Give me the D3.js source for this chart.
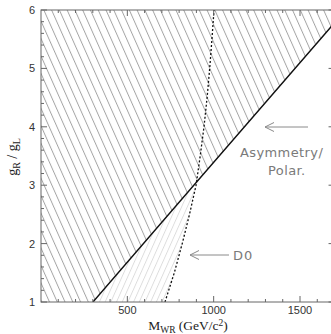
<!DOCTYPE html>
<html><head><meta charset="utf-8">
<script src="https://cdn.jsdelivr.net/npm/d3@7"></script>
<style>html,body{margin:0;padding:0;background:#fff;}svg{display:block;}</style>
</head><body>
<svg id="c" width="331" height="334"></svg>
<script>
// ---- data ----
const xMajorTicks = [500, 1000, 1500];
const yMajorTicks = [1, 2, 3, 4, 5, 6];
// Asymmetry / Polarization limit (solid line): [M_WR, gR/gL]
const asymLine = [[301, 1], [900, 3.05], [1700, 5.78]];
// D0 limit (dashed line)
const d0Line = [[718, 1], [772, 1.5], [818, 2], [860, 2.5], [898, 3], [922, 3.5], [944, 4], [962, 4.5], [977, 5], [990, 5.5], [1002, 6]];
const xDomain = [0, 1700];
const yDomain = [1, 6];

// ---- layout ----
const svg = d3.select("#c");
const L = 41, T = 10, B = 302;
const x = d3.scaleLinear().domain(xDomain).range([L, L + 259 * 1700 / 1500]);
const y = d3.scaleLinear().domain(yDomain).range([B, T]);
const R = x(xDomain[1]);

const defs = svg.append("defs");
defs.append("clipPath").attr("id", "plot").append("rect")
  .attr("x", L).attr("y", T).attr("width", R - L).attr("height", B - T);

const pd = defs.append("pattern").attr("id", "hDark").attr("patternUnits", "userSpaceOnUse")
  .attr("width", 7.1).attr("height", 10).attr("patternTransform", "rotate(-24)");
pd.append("line").attr("x1", 0.5).attr("x2", 0.5).attr("y1", 0).attr("y2", 10)
  .attr("stroke", "#939393").attr("stroke-width", 0.85);
const pl = defs.append("pattern").attr("id", "hLight").attr("patternUnits", "userSpaceOnUse")
  .attr("width", 5.2).attr("height", 10).attr("patternTransform", "rotate(24)");
pl.append("line").attr("x1", 0.5).attr("x2", 0.5).attr("y1", 0).attr("y2", 10)
  .attr("stroke", "#d8d8d8").attr("stroke-width", 0.85);

const line = d3.line().x(d => x(d[0])).y(d => y(d[1]));
// clip: left of D0 dashed line
const leftOfD0 = [[xDomain[0], yDomain[0]], ...d0Line, [xDomain[0], yDomain[1]]];
defs.append("clipPath").attr("id", "leftD0").append("path").attr("d", line(leftOfD0) + "Z");

const g = svg.append("g").attr("clip-path", "url(#plot)");
// dark hatched region: above the solid line
const last = asymLine[asymLine.length - 1];
const darkPoly = [[xDomain[0], yDomain[1]], [xDomain[0], yDomain[0]], ...asymLine, [last[0], yDomain[1]]];
g.append("path").attr("d", line(darkPoly) + "Z").attr("fill", "url(#hDark)");
// light hatched region: below solid line and left of dashed
const lightPoly = [...asymLine, [last[0], yDomain[0]]];
g.append("g").attr("clip-path", "url(#leftD0)")
  .append("path").attr("d", line(lightPoly) + "Z").attr("fill", "url(#hLight)");

g.append("path").attr("d", line(asymLine)).attr("fill", "none").attr("stroke", "#111").attr("stroke-width", 1.4);
g.append("path").attr("d", line(d0Line)).attr("fill", "none").attr("stroke", "#111")
  .attr("stroke-width", 1.3).attr("stroke-dasharray", "2,2");

// ---- frame & ticks ----
const ax = svg.append("g").attr("stroke", "#666").attr("stroke-width", 1);
ax.append("rect").attr("x", L).attr("y", T).attr("width", R - L).attr("height", B - T).attr("fill", "none");
const xMinor = d3.range(100, 1701, 100);
xMinor.forEach(v => {
  const len = xMajorTicks.includes(v) ? 6 : 3;
  ax.append("line").attr("x1", x(v)).attr("x2", x(v)).attr("y1", B).attr("y2", B - len);
  ax.append("line").attr("x1", x(v)).attr("x2", x(v)).attr("y1", T).attr("y2", T + len);
});
const yMinor = d3.range(1, 6.001, 0.2).map(v => +v.toFixed(1));
yMinor.forEach(v => {
  const len = Number.isInteger(v) ? 6 : 3;
  ax.append("line").attr("x1", L).attr("x2", L + len).attr("y1", y(v)).attr("y2", y(v));
  ax.append("line").attr("x1", R).attr("x2", R - len).attr("y1", y(v)).attr("y2", y(v));
});

// tick labels
const tf = "'Liberation Sans', Arial, sans-serif";
svg.append("g").selectAll("text").data(xMajorTicks).join("text")
  .attr("x", d => x(d)).attr("y", 314).attr("text-anchor", "middle")
  .attr("font-family", tf).attr("font-size", 11).attr("fill", "#333").text(d => d);
svg.append("g").selectAll("text").data(yMajorTicks).join("text")
  .attr("x", 35).attr("y", d => y(d) + 4).attr("text-anchor", "end")
  .attr("font-family", tf).attr("font-size", 11).attr("fill", "#333").text(d => d);

// axis titles
const sf = "'Liberation Serif', 'Times New Roman', serif";
const xt = svg.append("text").attr("x", 188).attr("y", 330).attr("text-anchor", "middle")
  .attr("font-family", sf).attr("font-size", 13.5).attr("fill", "#222");
xt.append("tspan").text("M");
xt.append("tspan").attr("font-size", 9.5).attr("dy", 2.5).text("WR");
xt.append("tspan").attr("dy", -2.5).text(" (GeV/c");
xt.append("tspan").attr("font-size", 9.5).attr("dy", -4).text("2");
xt.append("tspan").attr("dy", 4).text(")");

const yt = svg.append("text").attr("transform", "translate(17,157) rotate(-90)").attr("text-anchor", "middle")
  .attr("font-family", sf).attr("font-size", 14).attr("fill", "#222");
yt.append("tspan").text("g");
yt.append("tspan").attr("font-size", 10).attr("dy", 3).text("R");
yt.append("tspan").attr("dy", -3).text(" / g");
yt.append("tspan").attr("font-size", 10).attr("dy", 3).text("L");

// annotations
const af = "'DejaVu Sans', sans-serif";
const an = svg.append("g").attr("stroke", "#8a8a8a").attr("stroke-width", 1).attr("fill", "none");
function arrow(x1, x2, yy) {
  an.append("line").attr("x1", x1).attr("x2", x2).attr("y1", yy).attr("y2", yy);
  an.append("path").attr("d", `M${x2 + 9},${yy - 4.5}L${x2},${yy}L${x2 + 9},${yy + 4.5}`);
}
arrow(308, 265, 127);
arrow(229, 190, 255);
svg.append("text").attr("x", 240).attr("y", 157).attr("font-family", af).attr("font-size", 13)
  .attr("fill", "#7a7a7a").attr("letter-spacing", 0.4).text("Asymmetry/");
svg.append("text").attr("x", 268).attr("y", 175).attr("font-family", af).attr("font-size", 13)
  .attr("fill", "#7a7a7a").attr("letter-spacing", 0.4).text("Polar.");
svg.append("text").attr("x", 233).attr("y", 260).attr("font-family", af).attr("font-size", 13)
  .attr("fill", "#7a7a7a").attr("letter-spacing", 1).text("D0");
</script>
</body></html>
